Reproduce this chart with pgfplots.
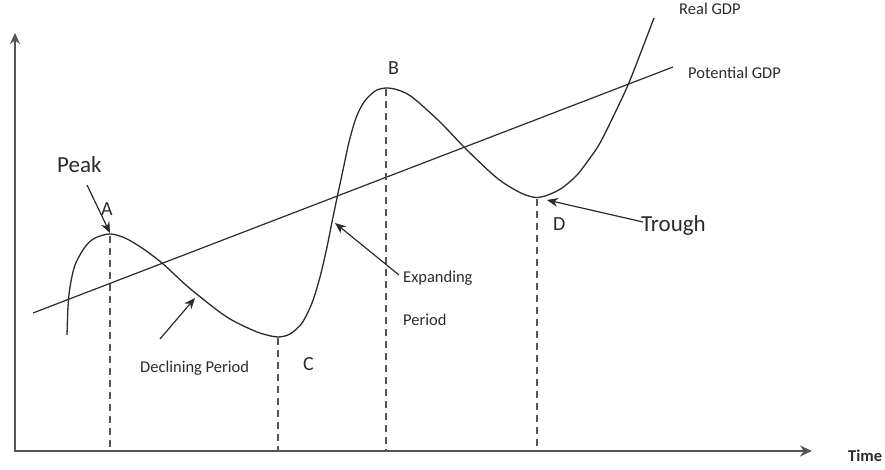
\documentclass[border=0pt]{standalone}
\usepackage{fontspec}
\setmainfont{Carlito}
\usepackage{pgfplots}
\pgfplotsset{compat=1.18}
\usetikzlibrary{arrows.meta}
\definecolor{ink}{HTML}{2B2B2B}
\definecolor{axisgray}{HTML}{555555}
\begin{document}
\begin{tikzpicture}
\begin{axis}[
  width=885bp, height=470bp, scale only axis,
  xmin=0, xmax=885, ymin=0, ymax=470, y dir=reverse,
  hide axis, clip=false,
]
\path (axis cs:0,0) rectangle (axis cs:885,470);
% axes
\addplot[axisgray, line width=1.8bp, -{Stealth[length=11bp,width=10bp]}] coordinates {(15,451) (15,33)};
\addplot[axisgray, line width=1.8bp, -{Stealth[length=12bp,width=11bp]}] coordinates {(14,451) (812,451)};
% potential GDP
\addplot[ink, line width=1.2bp] coordinates {(33,313) (673,67)};
% real GDP
\addplot[ink, line width=1.3bp, smooth, tension=0.5] coordinates {
(67,335) (68,307) (70,287) (75,265) (85,247) (95,238) (110,234) (125,238)
(142,248) (162,263) (187,286) (213,307) (230,319) (250,329) (263,334)
(278,337) (290,334) (302,323) (312,303) (320,277) (327,247) (332,222)
(337,198) (343,170) (349,142) (356,118) (364,102) (375,91) (386,88) (398,90)
(412,97) (439,121) (465,148) (490,172) (503,182.5) (517,191) (527,195.5)
(537,197.5) (548,195) (562,188) (577,175) (590,158) (600,143) (614,115)
(628,85) (641,52) (654,18)};
% dashed guides
\addplot[axisgray, line width=1.2bp, dash pattern=on 7bp off 5bp] coordinates {(110,236) (110,450)};
\addplot[axisgray, line width=1.2bp, dash pattern=on 7bp off 5bp] coordinates {(278,338) (278,450)};
\addplot[axisgray, line width=1.2bp, dash pattern=on 7bp off 5bp] coordinates {(386,89) (386,450)};
\addplot[axisgray, line width=1.2bp, dash pattern=on 7bp off 5bp] coordinates {(537,199) (537,450)};
% annotation arrows
\addplot[ink, line width=1.2bp, -{Stealth[length=11bp,width=9bp]}] coordinates {(87,185) (110,233)};
\addplot[ink, line width=1.2bp, -{Stealth[length=11bp,width=9bp]}] coordinates {(160,339) (195,298)};
\addplot[ink, line width=1.2bp, -{Stealth[length=11bp,width=9bp]}] coordinates {(399,275) (335,223)};
\addplot[ink, line width=1.2bp, -{Stealth[length=11bp,width=9bp]}] coordinates {(643,222) (547,200)};
% labels
\begin{scope}[every node/.style={inner sep=0pt, anchor=base west, text=ink}]
\node[font=\fontsize{23bp}{26bp}\selectfont] at (axis cs:57,173) {Peak};
\node[font=\fontsize{20bp}{24bp}\selectfont] at (axis cs:101,216) {A};
\node[font=\fontsize{20bp}{24bp}\selectfont] at (axis cs:388,75) {B};
\node[font=\fontsize{20bp}{24bp}\selectfont] at (axis cs:303,371) {C};
\node[font=\fontsize{20bp}{24bp}\selectfont] at (axis cs:553,231) {D};
\node[font=\fontsize{23bp}{26bp}\selectfont] at (axis cs:641,232) {Trough};
\node[font=\fontsize{16.5bp}{20bp}\selectfont] at (axis cs:140,373) {Declining Period};
\node[font=\fontsize{16.5bp}{20bp}\selectfont] at (axis cs:403,283) {Expanding};
\node[font=\fontsize{16.5bp}{20bp}\selectfont] at (axis cs:403,326) {Period};
\node[font=\fontsize{16.5bp}{20bp}\selectfont] at (axis cs:679,15) {Real GDP};
\node[font=\fontsize{16.5bp}{20bp}\selectfont] at (axis cs:688,79) {Potential GDP};
\node[font=\fontsize{16.5bp}{20bp}\selectfont\bfseries] at (axis cs:848,462) {Time};
\end{scope}
\end{axis}
\end{tikzpicture}
\end{document}
